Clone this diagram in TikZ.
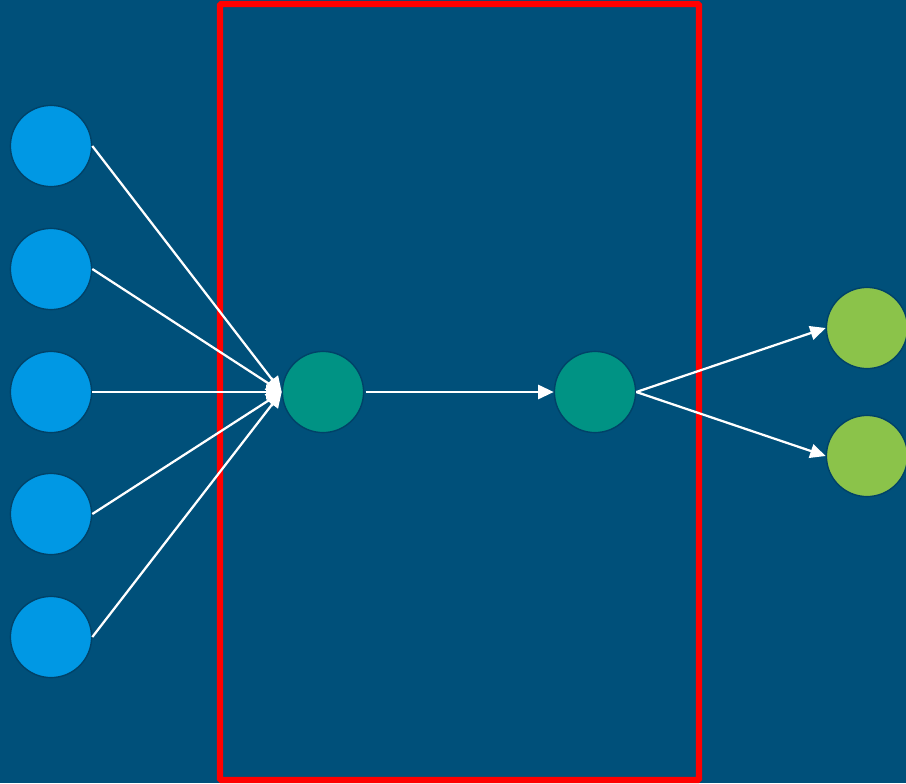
\documentclass[tikz,border=0pt]{standalone}
\usepackage{tikz}
\usetikzlibrary{arrows.meta}
\definecolor{bgblue}{RGB}{0,80,122}
\definecolor{inblue}{RGB}{0,152,228}
\definecolor{hidteal}{RGB}{0,147,132}
\definecolor{outgreen}{RGB}{139,195,74}
\definecolor{rimblue}{RGB}{0,66,104}
\tikzstyle{neuron}=[circle, inner sep=0pt, minimum size=2.03cm, draw=rimblue, line width=1pt]
\tikzstyle{inp}=[neuron, fill=inblue]
\tikzstyle{hid}=[neuron, fill=hidteal]
\tikzstyle{outp}=[neuron, fill=outgreen]
\tikzstyle{link}=[draw=white, line width=1.6pt, -{Triangle[length=11pt,width=10pt]}]
\tikzstyle{frame}=[draw=red, line width=4.6pt, rounded corners=1pt]

\begin{document}
\begin{tikzpicture}[x=0.025cm, y=-0.025cm]
				%The background
				\useasboundingbox (0,0) rectangle (906,783);
				\fill[bgblue] (0,0) rectangle (906,783);
				
				%The box
				\draw[frame] (220,4) rectangle (699,780);
				
				%The inputs
				\draw (51,146) node[inp] (i1) {};
				\draw (51,269) node[inp] (i2) {};
				\draw (51,392) node[inp] (i3) {};
				\draw (51,514) node[inp] (i4) {};
				\draw (51,637) node[inp] (i5) {};
				
				%The hidden nodes
				\draw (323,392) node[hid] (h1) {};
				\draw (595,392) node[hid] (h2) {};
				
				%The outputs
				\draw (867,328) node[outp] (o1) {};
				\draw (867,456) node[outp] (o2) {};
				
				\draw[link] (i1.east) -- (h1.west);
				\draw[link] (i2.east) -- (h1.west);
				\draw[link] (i3.east) -- (h1.west);
				\draw[link] (i4.east) -- (h1.west);
				\draw[link] (i5.east) -- (h1.west);
				
				\draw[link, shorten <=1pt] (h1.east) -- (h2.west);
				
				\draw[link] (h2.east) -- (o1.west);
				\draw[link] (h2.east) -- (o2.west);
			\end{tikzpicture}
\end{document}
